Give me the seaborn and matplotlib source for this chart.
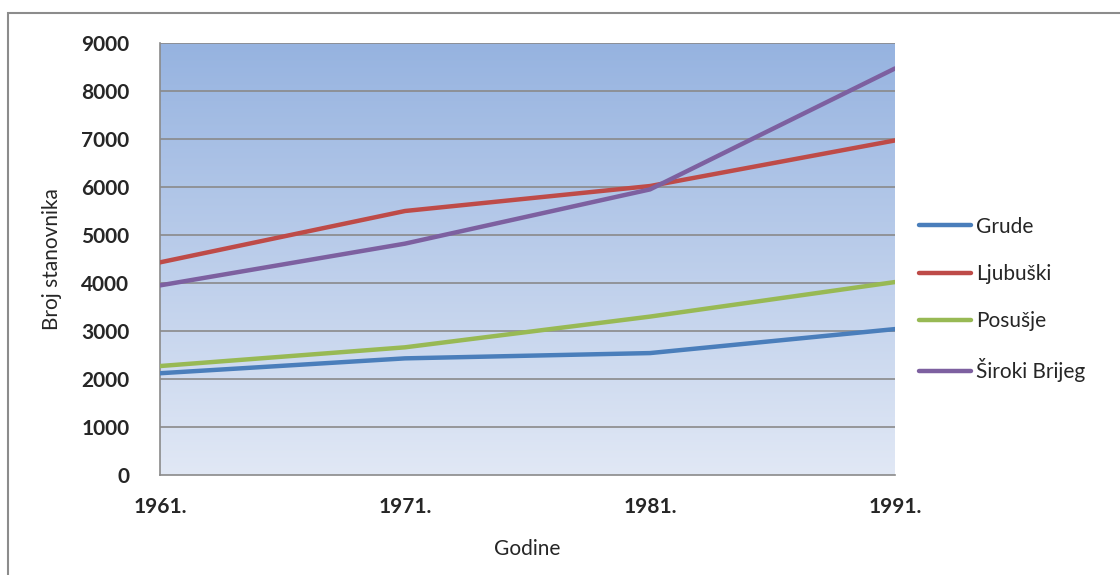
import numpy as np
import pandas as pd
import matplotlib
matplotlib.use("Agg")
import matplotlib.pyplot as plt
import seaborn as sns
from matplotlib.patches import Rectangle

# data
years = [1961, 1971, 1981, 1991]
year_labels = ["1961.", "1971.", "1981.", "1991."]
grude = [2120, 2430, 2540, 3040]
ljubuski = [4430, 5500, 6020, 6970]
posusje = [2270, 2660, 3300, 4020]
siroki = [3950, 4820, 5950, 8470]
names = ["Grude", "Ljubuški", "Posušje", "Široki Brijeg"]
colors = ["#4A7EBB", "#BE4B48", "#98B954", "#7D60A0"]

df = pd.DataFrame({
    "Godine": years * 4,
    "Broj": grude + ljubuski + posusje + siroki,
    "Opcina": [n for n in names for _ in years],
})

sns.set_style("white")
plt.rcParams["font.family"] = ["Lato", "DejaVu Sans"]

fig = plt.figure(figsize=(11.2, 5.75), dpi=100)
ax = fig.add_axes([160 / 1120, 1 - 475 / 575, 735 / 1120, 432 / 575])

# outer frame like the Excel chart area
fig.patches.append(Rectangle((8 / 1120, -0.01), 1.1, 1 - 13 / 575 + 0.01,
                             transform=fig.transFigure, fill=False,
                             edgecolor="#8C8C8C", linewidth=1.5, zorder=0))

# gradient plot background
grad = np.linspace(0, 1, 256).reshape(-1, 1)
cmap = matplotlib.colors.LinearSegmentedColormap.from_list("bg", ["#E1E8F5", "#96B3E0"])
ax.imshow(grad, cmap=cmap, extent=[1961, 1991, 0, 9000], origin="lower",
          aspect="auto", zorder=0)

for v in range(1000, 10000, 1000):
    ax.axhline(v, color="#8A8A8A", lw=1.2, zorder=1)

sns.lineplot(data=df, x="Godine", y="Broj", hue="Opcina", palette=colors,
             linewidth=3.2, ax=ax, legend=False, zorder=3)

ax.set_xlim(1961, 1991)
ax.set_ylim(0, 9000)
ax.set_xticks(years)
ax.set_xticklabels(year_labels)
ax.set_yticks(range(0, 10000, 1000))
ax.tick_params(length=0, labelsize=15)
ax.tick_params(axis="y", pad=22)
ax.tick_params(axis="x", pad=16)
for lab in ax.get_xticklabels() + ax.get_yticklabels():
    lab.set_fontweight("bold")

for s in ["top", "right"]:
    ax.spines[s].set_visible(False)
for s in ["left", "bottom"]:
    ax.spines[s].set_color("#8A8A8A")
    ax.spines[s].set_linewidth(1.2)

ax.set_xlabel("Godine", fontsize=15, labelpad=16)
ax.set_ylabel("Broj stanovnika", fontsize=15, labelpad=14)

handles = [plt.Line2D([], [], color=c, lw=3.2) for c in colors]
fig.legend(handles, names, loc="upper left", bbox_to_anchor=(900 / 1120, 1 - 198 / 575),
           frameon=False, fontsize=15, handlelength=2.5, handletextpad=0.25,
           labelspacing=1.3)

fig.savefig("out.png", dpi=100)
